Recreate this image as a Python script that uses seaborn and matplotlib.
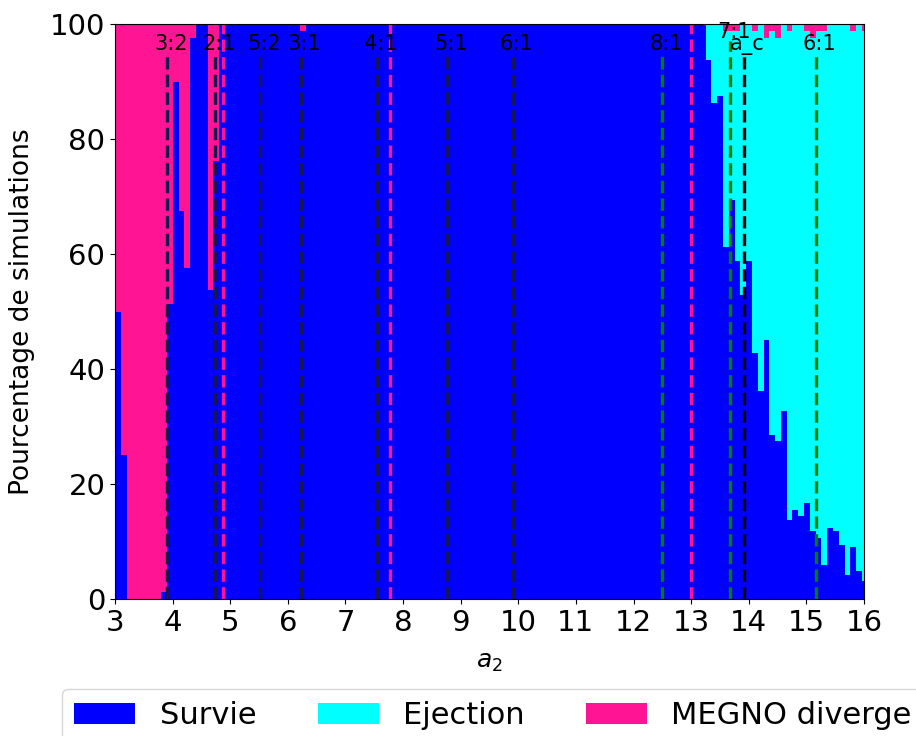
import numpy as np
import pandas as pd
import matplotlib
matplotlib.use("Agg")
import matplotlib.pyplot as plt
from matplotlib.patches import Patch
import seaborn as sns

# ---------------- data ----------------
step = 0.1005
a2 = np.round(3.0 + step * np.arange(130), 4)

survie = ([50, 25] + [0] * 6
          + [1.25, 51.25, 90, 67.5, 57.5, 97.5, 100, 100, 53.75, 76.25]
          + [100] * 14 + [98.75] + [100] * 69
          + [93.75, 86.25, 87.5, 61.25, 69.4, 58.7, 52.9, 58.7, 42.8, 36.2,
             45.0, 28.5, 27.4, 32.7, 13.7, 15.5, 14.4, 16.7, 11.8, 10.6,
             5.9, 12.3, 11.8, 9.4, 4.2, 9.0, 4.9, 3.1])
megno = ([50, 75] + [100] * 6
         + [98.75, 48.75, 10, 32.5, 42.5, 2.5, 0, 0, 46.25, 23.75]
         + [0] * 14 + [1.25] + [0] * 69
         + [0, 0, 0, 1.25, 1.25, 1.25, 0, 0, 1.25, 0,
            2.5, 1.25, 2.5, 0, 1.25, 0, 0, 1.25, 2.5, 1.25,
            1.25, 0, 0, 0, 0, 1.25, 0, 1.25])
ejection = ([0] * 102
            + [6.25, 13.75, 12.5, 37.5, 29.35, 40.05, 47.1, 41.3, 55.95, 63.8,
               52.5, 70.25, 70.1, 67.3, 85.05, 84.5, 85.6, 82.05, 85.7, 88.15,
               92.85, 87.7, 88.2, 90.6, 95.8, 89.75, 95.1, 95.65])

outcomes = ["Survie", "Ejection", "MEGNO diverge"]
colors = {"Survie": "#0000ff", "Ejection": "#00ffff", "MEGNO diverge": "#ff1493"}

res_in_labels = ["3:2", "2:1", "5:2", "3:1", "4:1", "5:1", "6:1"]
res_in_x = [3.91, 4.74, 5.51, 6.22, 7.55, 8.77, 9.90]
res_out_labels = ["8:1", "7:1", "6:1"]
res_out_x = [12.50, 13.68, 15.16]
ac_label = "a_c"
ac_x = 13.91
pink_x = [4.87, 7.77, 13.0]

assert len(survie) == len(megno) == len(ejection) == len(a2) == 130

# ---------------- long table ----------------
df = pd.DataFrame({
    "a2": np.tile(a2, 3),
    "pct": np.concatenate([survie, ejection, megno]).astype(float),
    "outcome": np.repeat(outcomes, len(a2)),
})
df["xc"] = df["a2"] + step / 2

# ---------------- figure ----------------
fig = plt.figure(figsize=(9.16, 7.36), dpi=100)
ax = fig.add_axes([115 / 916, 137 / 736, 749 / 916, 575 / 736])

sns.histplot(data=df, x="xc", weights="pct", hue="outcome",
             hue_order=["MEGNO diverge", "Ejection", "Survie"],
             palette=colors, multiple="stack",
             binwidth=step, binrange=(3.0, 3.0 + 130 * step),
             element="bars", fill=True, alpha=1, linewidth=0,
             antialiased=False, legend=False, ax=ax)

lw = 2.4
for x in pink_x:
    ax.axvline(x, 0, 1, color="#ff1493", ls="--", lw=lw)
for lab, x in zip(res_in_labels, res_in_x):
    ax.plot([x, x], [0, 95], color="#161650", ls="--", lw=lw)
    ax.text(x + 0.07, 95.5, lab, ha="center", va="baseline", fontsize=15)
for lab, x in zip(res_out_labels, res_out_x):
    top = 97 if lab == "7:1" else 95
    ax.plot([x, x], [0, top], color="green", ls="--", lw=lw)
    ax.text(x + 0.07, top + 0.5, lab, ha="center", va="baseline", fontsize=15)
ax.plot([ac_x, ac_x], [0, 95], color="black", ls="--", lw=lw)
ax.text(ac_x + 0.07, 95.5, ac_label, ha="center", va="baseline", fontsize=15)

ax.set_xlim(3, 16)
ax.set_ylim(0, 100)
ax.set_xticks(range(3, 17))
ax.set_yticks(range(0, 101, 20))
ax.tick_params(labelsize=21)
ax.set_xlabel("$a_2$", fontsize=18, labelpad=9.8)
ax.set_ylabel("Pourcentage de simulations", fontsize=19, labelpad=10.5)

handles = [Patch(facecolor=colors[o], label=o) for o in outcomes]
fig.legend(handles=handles, loc="upper left", bbox_to_anchor=(62 / 916, 1 - 689 / 736),
           bbox_transform=fig.transFigure, ncol=3, fontsize=22, borderaxespad=0)

fig.savefig("out.png", dpi=100)
